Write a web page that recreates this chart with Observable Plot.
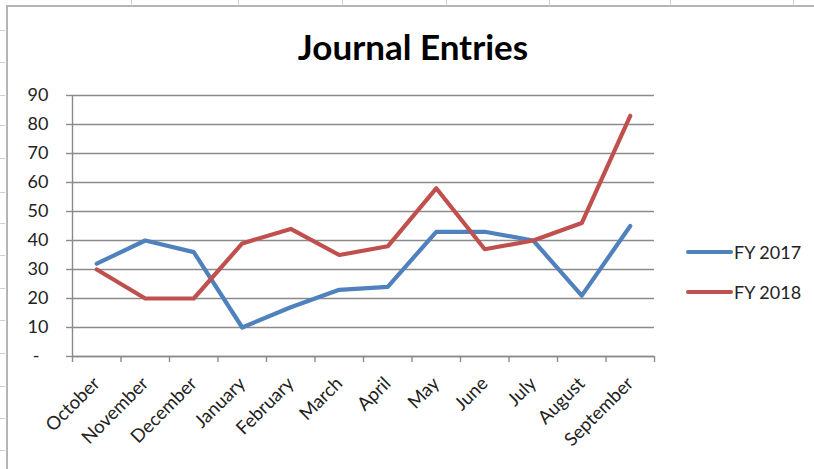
<!DOCTYPE html>
<html>
<head>
<meta charset="utf-8">
<script src="https://cdn.jsdelivr.net/npm/d3@7"></script>
<script src="https://cdn.jsdelivr.net/npm/@observablehq/plot@0.6"></script>
<style>
  html, body { margin: 0; padding: 0; background: #fff; }
  #wrap { position: relative; width: 814px; height: 469px; overflow: hidden; background: #fff; font-family: Lato, "Open Sans", sans-serif; }
  #wrap svg.plot { position: absolute; left: 0; top: 0; }
  .sheet-v { position: absolute; top: 0; width: 1px; height: 6px; background: #d0d0d0; }
  .sheet-h { position: absolute; left: 0; width: 5px; height: 1px; background: #d0d0d0; }
  #border { position: absolute; left: 6px; top: 5px; width: 820px; height: 480px; border-left: 2px solid #b4b4b4; border-top: 2px solid #b4b4b4; box-sizing: border-box; }
  #title { position: absolute; left: 0; top: 26px; width: 826px; text-align: center; font-weight: 700; font-size: 35px; line-height: 40px; color: #000; }
  #legend { position: absolute; left: 686px; top: 240px; font-size: 18px; color: #222; }
  #legend .row { display: flex; align-items: center; height: 24px; margin-bottom: 16px; }
  #legend svg { display: block; margin-right: 1px; }
</style>
</head>
<body>
<div id="wrap">
  <div id="border"></div>
  <div id="title">Journal Entries</div>
  <div id="legend"></div>
</div>
<script>
// ---- data ----
const months = ["October","November","December","January","February","March","April","May","June","July","August","September"];
const fy2017 = [32, 40, 36, 10, 17, 23, 24, 43, 43, 40, 21, 45];
const fy2018 = [30, 20, 20, 39, 44, 35, 38, 58, 37, 40, 46, 83];
const seriesNames = ["FY 2017", "FY 2018"];
const seriesColors = ["#4F81BD", "#C0504D"];
const yTicks = [0, 10, 20, 30, 40, 50, 60, 70, 80, 90];
const sheetCols = [131, 238, 342, 446, 549, 670, 793];
const sheetRows = [30, 62, 95, 125, 158, 192, 223, 255, 288, 320, 353, 386, 418, 450];

const wrap = document.getElementById("wrap");
for (const x of sheetCols) { const d = document.createElement("div"); d.className = "sheet-v"; d.style.left = x + "px"; wrap.appendChild(d); }
for (const y of sheetRows) { const d = document.createElement("div"); d.className = "sheet-h"; d.style.top = y + "px"; wrap.appendChild(d); }

const values = [fy2017, fy2018];
const data = [];
seriesNames.forEach((s, k) => months.forEach((m, i) => data.push({series: s, month: m, pos: i + 0.5, value: values[k][i]})));

const axisColor = "#8a8a8a";
const chart = Plot.plot({
  width: 814,
  height: 469,
  marginLeft: 72,
  marginRight: 160,
  marginTop: 95,
  marginBottom: 113,
  style: {fontFamily: "Lato, 'Open Sans', sans-serif", fontSize: "18px", color: "#222", background: "transparent"},
  x: {type: "linear", domain: [0, months.length]},
  y: {domain: [0, 90]},
  color: {domain: seriesNames, range: seriesColors},
  marks: [
    Plot.gridY(yTicks, {stroke: axisColor, strokeOpacity: 1, strokeWidth: 1.4}),
    Plot.ruleX([0], {stroke: axisColor, strokeWidth: 1.4}),
    Plot.ruleY([0], {stroke: axisColor, strokeWidth: 1.4}),
    Plot.axisY(yTicks, {tickSize: 6, tickPadding: 18, stroke: axisColor, strokeWidth: 1.4, fill: "#222", fontSize: 18, label: null,
      tickFormat: d => d === 0 ? "-\u2002" : String(d)}),
    Plot.axisX(d3.range(months.length + 1), {tickSize: 6, stroke: axisColor, strokeWidth: 1.4, tickFormat: () => "", label: null}),
    Plot.axisX(months.map((m, i) => i + 0.5), {tickSize: 0, tickPadding: 24, tickRotate: -45, fill: "#222", fontSize: 18.5, label: null,
      tickFormat: p => months[Math.floor(p)]}),
    Plot.line(data, {x: "pos", y: "value", z: "series", stroke: "series", strokeWidth: 4.2, strokeLinejoin: "round", strokeLinecap: "round"})
  ]
});
chart.classList.add("plot");
wrap.insertBefore(chart, document.getElementById("title"));

// legend
const legend = document.getElementById("legend");
seriesNames.forEach((s, k) => {
  const row = document.createElement("div");
  row.className = "row";
  row.innerHTML = `<svg width="47" height="8"><line x1="2" y1="4" x2="45" y2="4" stroke="${seriesColors[k]}" stroke-width="4" stroke-linecap="round"/></svg><span>${s}</span>`;
  legend.appendChild(row);
});
</script>
</body>
</html>
